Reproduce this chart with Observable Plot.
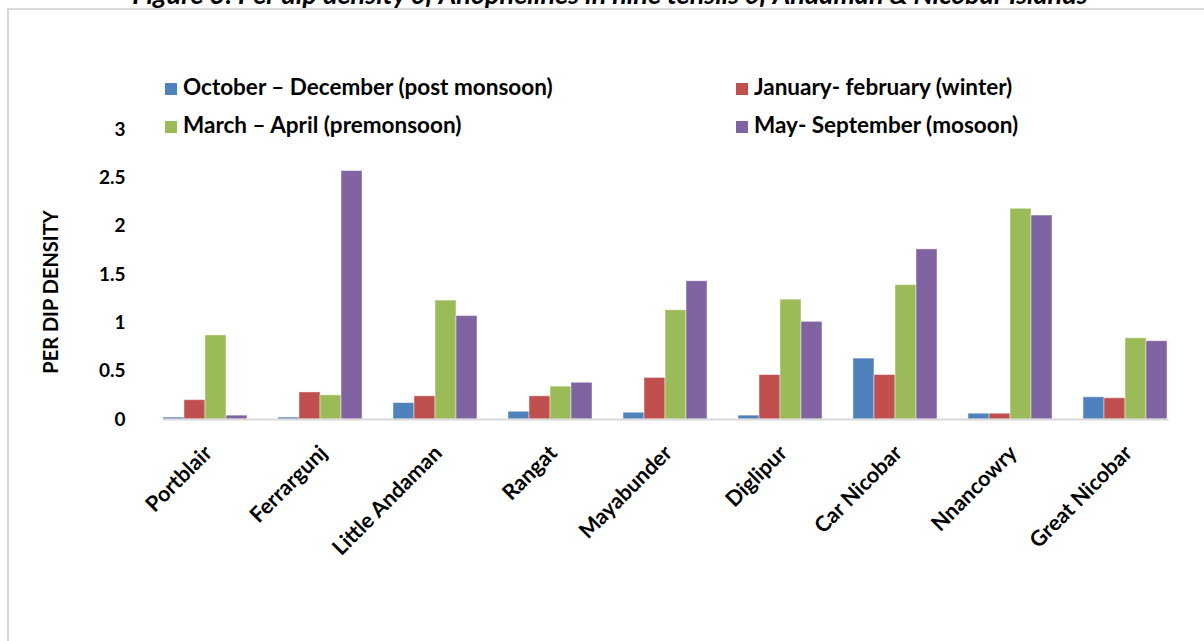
<!DOCTYPE html>
<html><head><meta charset="utf-8">
<script src="https://cdn.jsdelivr.net/npm/d3@7"></script>
<script src="https://cdn.jsdelivr.net/npm/@observablehq/plot@0.6"></script>
<style>
body{margin:0;background:#fff;overflow:hidden;}
#wrap{position:relative;width:1204px;height:641px;overflow:hidden;font-family:Lato,"Open Sans",sans-serif;color:#000;}
#frame{position:absolute;left:7px;top:8px;width:1300px;height:800px;border-top:2px solid #d9d9d9;border-left:2px solid #d9d9d9;box-sizing:border-box;}
#title{position:absolute;left:0;width:1220px;top:-22px;text-align:center;font-weight:bold;font-style:italic;font-size:27px;line-height:1.2;white-space:nowrap;}
#chart{position:absolute;left:0;top:0;}
#ylabel{position:absolute;left:50px;top:292px;transform:translate(-50%,-50%) rotate(-90deg);font-weight:bold;font-size:20px;white-space:nowrap;}
.leg{position:absolute;font-weight:bold;font-size:22.5px;white-space:nowrap;line-height:24px;}
.sw{display:inline-block;width:12px;height:12px;margin-right:6px;vertical-align:0px;}
</style>
</head><body>
<div id="wrap">
  <div id="frame"></div>
  <div id="title"></div>
  <div id="chart"></div>
  <div id="ylabel"></div>
  <div id="legend"></div>
</div>
<script>
const titleText = "Figure 3: Per dip density of Anophelines in nine tehsils of Andaman & Nicobar Islands";
const yLabel = "PER DIP DENSITY";
const categories = ["Portblair","Ferrargunj","Little Andaman","Rangat","Mayabunder","Diglipur","Car Nicobar","Nnancowry","Great Nicobar"];
const seriesNames = ["October – December (post monsoon)","January- february (winter)","March – April (premonsoon)","May- September (mosoon)"];
const colors = ["#4F81BD","#C0504D","#9BBB59","#8064A2"];
const postMonsoon = [0.02,0.02,0.17,0.08,0.07,0.04,0.63,0.06,0.23];
const winter      = [0.20,0.28,0.24,0.24,0.43,0.46,0.46,0.06,0.22];
const premonsoon  = [0.87,0.25,1.23,0.34,1.13,1.24,1.39,2.18,0.84];
const monsoon     = [0.04,2.57,1.07,0.38,1.43,1.01,1.76,2.11,0.81];
const yTicks = [0,0.5,1,1.5,2,2.5,3];

const seriesValues = [postMonsoon, winter, premonsoon, monsoon];
const rows = [];
categories.forEach((c,i)=>seriesValues.forEach((vals,s)=>rows.push({cat:c, series:seriesNames[s], value:vals[i]})));

document.getElementById("title").textContent = titleText;
document.getElementById("ylabel").textContent = yLabel;

// legend (2 columns x 2 rows, row-major order as in the reference)
const legPos = [[165,75],[736,75],[165,113],[736,113]];
const legend = document.getElementById("legend");
seriesNames.forEach((n,i)=>{
  const d = document.createElement("div");
  d.className = "leg";
  d.style.left = legPos[i][0]+"px";
  d.style.top = legPos[i][1]+"px";
  d.innerHTML = `<span class="sw" style="background:${colors[i]}"></span>`;
  d.appendChild(document.createTextNode(n));
  legend.appendChild(d);
});

const chart = Plot.plot({
  width: 1204,
  height: 641,
  marginTop: 129,
  marginBottom: 222,
  marginLeft: 146,
  marginRight: 20,
  style: {fontFamily: "Lato, 'Open Sans', sans-serif", fontWeight: "bold", fontSize: "18px", color: "#000", background: "transparent"},
  fx: {domain: categories, paddingInner: 0.269, paddingOuter: 0.1345, label: null},
  x: {domain: seriesNames, padding: 0, axis: null},
  y: {domain: [0, 3], axis: null},
  color: {domain: seriesNames, range: colors},
  marks: [
    Plot.barY(rows, {fx: "cat", x: "series", y: "value", fill: "series", stroke: "white", strokeOpacity: 0.45, strokeWidth: 1}),
    Plot.frame({anchor: "bottom", facet: "super", stroke: "#d9d9d9", strokeWidth: 2}),
    Plot.axisY({ticks: yTicks, tickSize: 0, tickPadding: 38, tickFormat: d => String(d), label: null, fontSize: 19}),
    Plot.axisFx({anchor: "bottom", tickRotate: -45, tickSize: 0, tickPadding: 30, dx: 3, label: null, fontSize: 21.5})
  ]
});
document.getElementById("chart").appendChild(chart);
</script>
</body></html>
